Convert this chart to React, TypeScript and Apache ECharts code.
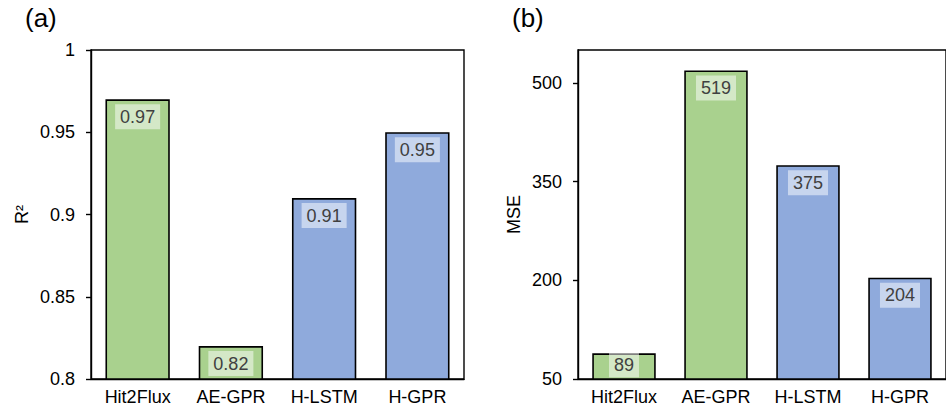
import React, { useEffect, useRef } from "react";
import * as echarts from "echarts";

const categories = ["Hit2Flux", "AE-GPR", "H-LSTM", "H-GPR"];
const r2Values = [0.97, 0.82, 0.91, 0.95];
const mseValues = [89, 519, 375, 204];
const r2Ticks = [0.8, 0.85, 0.9, 0.95, 1];
const mseTicks = [50, 200, 350, 500];
const barColors = ["#a9d18e", "#a9d18e", "#8faadc", "#8faadc"];

const FONT = "'Liberation Sans', Arial, sans-serif";

export default function App() {
  const ref = useRef<HTMLDivElement>(null);
  useEffect(() => {
    if (!ref.current) return;
    const chart = echarts.init(ref.current, null, { renderer: "svg" });
    const axisLine = { show: true, lineStyle: { color: "#000", width: 1.4 } };
    const catAxis = (gridIndex: number) => ({
      type: "category" as const,
      gridIndex,
      data: categories,
      axisLine,
      axisTick: { show: false },
      axisLabel: { color: "#000", fontSize: 18, fontFamily: FONT, margin: 9 },
    });
    const valAxis = (gridIndex: number, name: string, min: number, max: number, interval: number, ticks: number[], gap: number) => ({
      type: "value" as const,
      gridIndex,
      min,
      max,
      interval,
      name,
      nameLocation: "middle" as const,
      nameGap: gap,
      nameTextStyle: { color: "#000", fontSize: 18, fontFamily: FONT },
      axisLine,
      axisTick: { show: true, length: 5, lineStyle: { color: "#000", width: 1.4 }, customValues: ticks },
      axisLabel: { color: "#000", fontSize: 18, fontFamily: FONT, margin: 16, customValues: ticks },
      splitLine: { show: false },
    });
    const barSeries = (idx: number, values: number[]) => ({
      type: "bar" as const,
      xAxisIndex: idx,
      yAxisIndex: idx,
      barWidth: "69%",
      data: values.map((v, i) => ({
        value: v,
        itemStyle: { color: barColors[i] },
        label: idx === 1 && i === 0 ? { distance: -1 } : undefined,
      })),
      itemStyle: { borderColor: "#000", borderWidth: 1.6 },
      label: {
        show: true,
        position: "insideTop" as const,
        distance: 5,
        color: "#404040",
        fontSize: 18,
        fontFamily: FONT,
        lineHeight: 19,
        backgroundColor: "rgba(255,255,255,0.5)",
        padding: [3, 5, 3, 5],
      },
    });
    chart.setOption({
      animation: false,
      backgroundColor: "#fff",
      grid: [
        { left: 91, top: 50, width: 373, height: 329, show: true, borderColor: "#000", borderWidth: 1.4, backgroundColor: "transparent" },
        { left: 578, top: 50, width: 380, height: 329, show: true, borderColor: "#000", borderWidth: 1.4, backgroundColor: "transparent" },
      ],
      xAxis: [catAxis(0), catAxis(1)],
      yAxis: [
        valAxis(0, "R²", 0.8, 1, 0.05, r2Ticks, 60),
        valAxis(1, "MSE", 50, 550, 150, mseTicks, 55),
      ],
      series: [barSeries(0, r2Values), barSeries(1, mseValues)],
      graphic: [
        { type: "text", left: 25, top: 5, style: { text: "(a)", fontSize: 26, fontFamily: FONT, fill: "#000" } },
        { type: "text", left: 512, top: 5, style: { text: "(b)", fontSize: 26, fontFamily: FONT, fill: "#000" } },
      ],
    });
    return () => chart.dispose();
  }, []);
  return <div ref={ref} style={{ position: "fixed", left: 0, top: 0, width: 946, height: 417 }} />;
}
